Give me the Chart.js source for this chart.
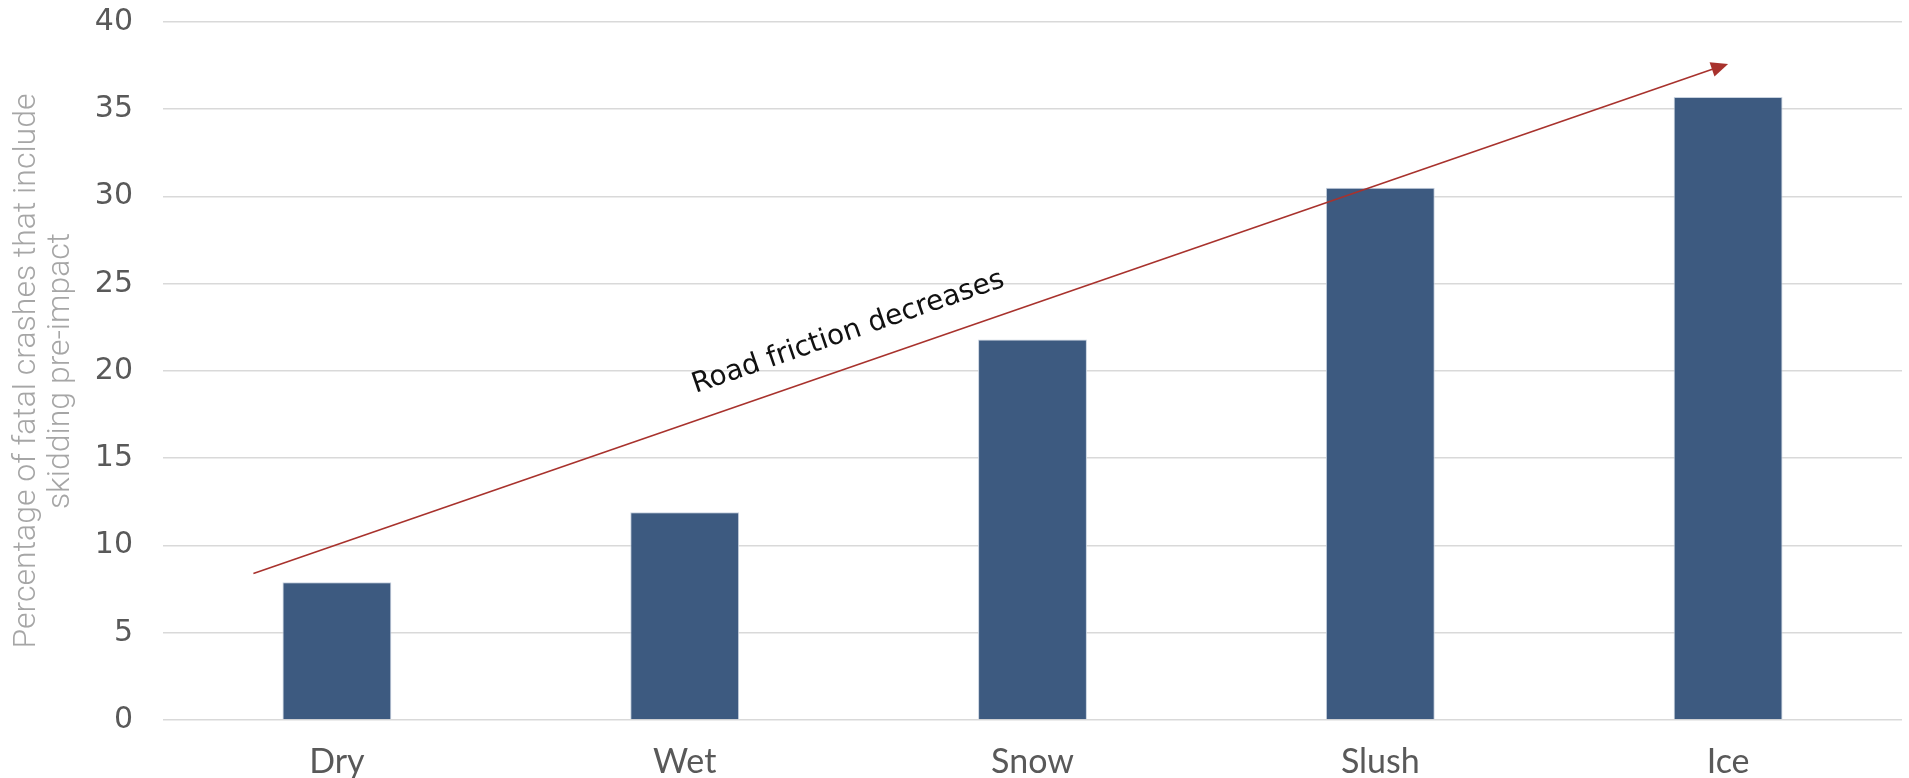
<!DOCTYPE html>
<html>
<head>
<meta charset="utf-8">
<script src="https://cdn.jsdelivr.net/npm/chart.js@4.4.1/dist/chart.umd.min.js"></script>
<style>
  html, body { margin: 0; padding: 0; background: #fff; }
  #wrap { width: 1909px; height: 778px; position: relative; }
</style>
</head>
<body>
<div id="wrap"><canvas id="skidChart"></canvas></div>
<script>
// data
const categories = ["Dry", "Wet", "Snow", "Slush", "Ice"];
const skidPct = [7.9, 11.9, 21.8, 30.5, 35.7];
const yTicks = [0, 5, 10, 15, 20, 25, 30, 35, 40];
const yTitle = ["Percentage of fatal crashes that include", "skidding pre-impact"];

// annotation arrow, in (category index, value) units
const arrowFrom = [-0.24, 8.4];
const arrowTo = [4.0, 37.6];
const noteText = "Road friction decreases";
const notePos = [1.47, 22.2];

// draws the red trend arrow + its label
const arrowNote = {
    id: "arrowNote",
    afterDatasetsDraw(chart) {
        const { ctx, scales: { x, y } } = chart;
        const x0 = x.getPixelForValue(arrowFrom[0]), y0 = y.getPixelForValue(arrowFrom[1]);
        const x1 = x.getPixelForValue(arrowTo[0]), y1 = y.getPixelForValue(arrowTo[1]);
        const ang = Math.atan2(y1 - y0, x1 - x0);
        const headLen = 17, headHalf = 7.5;

        ctx.save();
        ctx.strokeStyle = "#a8322d";
        ctx.fillStyle = "#a8322d";
        ctx.lineWidth = 1.6;
        ctx.beginPath();
        ctx.moveTo(x0, y0);
        ctx.lineTo(x1 - Math.cos(ang) * headLen * 0.8, y1 - Math.sin(ang) * headLen * 0.8);
        ctx.stroke();

        ctx.translate(x1, y1);
        ctx.rotate(ang);
        ctx.beginPath();
        ctx.moveTo(0, 0);
        ctx.lineTo(-headLen, -headHalf);
        ctx.lineTo(-headLen, headHalf);
        ctx.closePath();
        ctx.fill();
        ctx.restore();

        // label, rotated along the arrow
        const tx = x.getPixelForValue(notePos[0]), ty = y.getPixelForValue(notePos[1]);
        ctx.save();
        ctx.translate(tx, ty);
        ctx.rotate(ang);
        ctx.font = "28px 'DejaVu Sans'";
        ctx.fillStyle = "#111";
        ctx.textAlign = "center";
        ctx.textBaseline = "middle";
        ctx.fillText(noteText, 0, 0);
        ctx.restore();
    }
};

const ctx = document.getElementById("skidChart").getContext("2d");
new Chart(ctx, {
    type: "bar",
    data: {
        labels: categories,
        datasets: [{
            data: skidPct,
            backgroundColor: "#3d5a80",
            borderColor: "#c8d2df",
            borderWidth: 1,
            barPercentage: 0.313,
            categoryPercentage: 1
        }]
    },
    options: {
        responsive: true,
        maintainAspectRatio: false,
        animation: false,
        layout: { padding: { top: 0, right: 7, left: 0, bottom: 0 } },
        plugins: {
            legend: { display: false },
            tooltip: { enabled: false }
        },
        scales: {
            x: {
                grid: { display: false },
                border: { display: false },
                ticks: {
                    color: "#595959",
                    font: { family: "Lato", size: 34 },
                    padding: 14
                },
                afterFit: (scale) => { scale.height = 58; }
            },
            y: {
                min: 0,
                max: 40,
                afterBuildTicks: (scale) => { scale.ticks = yTicks.map(v => ({ value: v })); },
                grid: { color: "#d9d9d9", lineWidth: 1.6, drawTicks: false },
                border: { display: false },
                ticks: {
                    color: "#595959",
                    font: { family: "DejaVu Sans", size: 30 },
                    padding: 30
                },
                title: {
                    display: true,
                    text: yTitle,
                    color: "#a6a6a6",
                    font: { family: "Roboto", size: 32, weight: 300, lineHeight: "34px" },
                    padding: { top: 10, bottom: 0 }
                },
                afterFit: (scale) => {
                    scale.width = 163;
                    scale.paddingTop = 22;
                    scale.paddingBottom = 0;
                }
            }
        }
    },
    plugins: [arrowNote]
});
</script>
</body>
</html>
